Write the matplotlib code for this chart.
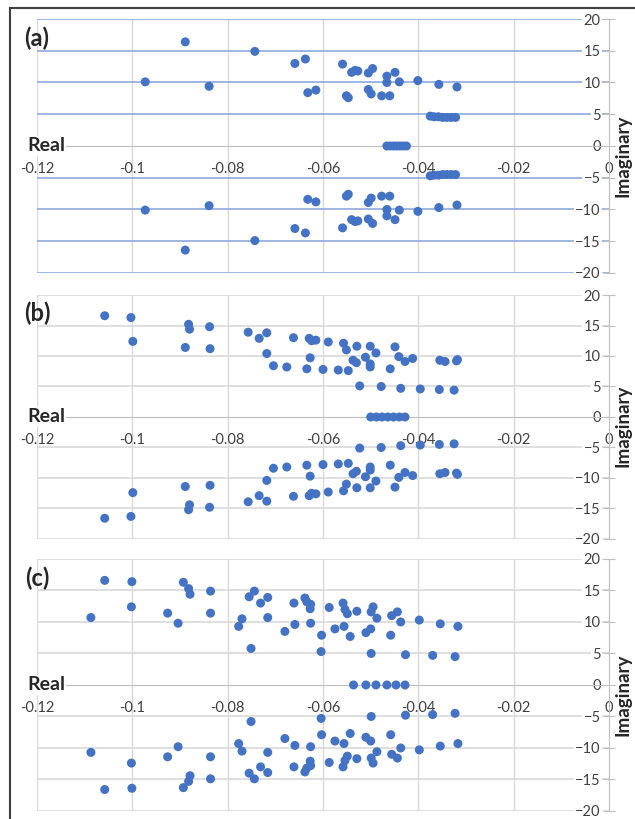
import numpy as np
import matplotlib.pyplot as plt
from matplotlib.lines import Line2D

plt.rcParams['font.family'] = ['Lato', 'DejaVu Sans']

# upper-half eigenvalues (conjugates are mirrored below), plus real ones
a_re = [-0.0889, -0.0743, -0.0659, -0.0637, -0.0973, -0.0839, -0.0632, -0.0615,
        -0.0559, -0.0551, -0.0547, -0.0540, -0.0533, -0.0527, -0.0505, -0.0496,
        -0.0505, -0.0499, -0.0477, -0.0460, -0.0466, -0.0449, -0.0466, -0.0440,
        -0.0401, -0.0357, -0.0319,
        -0.0375, -0.0367, -0.0358, -0.0349, -0.0340, -0.0331, -0.0322]
a_im = [16.4, 14.9, 13.0, 13.7, 10.1, 9.4, 8.4, 8.8,
        12.9, 7.9, 7.6, 11.6, 11.9, 11.8, 11.5, 12.2,
        8.9, 8.2, 7.9, 7.9, 11.0, 11.6, 10.0, 10.1,
        10.3, 9.7, 9.3,
        4.7, 4.6, 4.6, 4.5, 4.5, 4.5, 4.5]
a_zero = [-0.0466, -0.0459, -0.0452, -0.0446, -0.0439, -0.0432, -0.0425]

b_re = [-0.1058, -0.1003, -0.0999, -0.0882, -0.0880, -0.0838, -0.0889, -0.0837,
        -0.0757, -0.0734, -0.0718, -0.0718, -0.0704, -0.0676, -0.0662, -0.0629,
        -0.0624, -0.0615, -0.0627, -0.0634, -0.0600, -0.0589, -0.0568, -0.0557,
        -0.0551, -0.0547, -0.0529, -0.0537, -0.0530, -0.0523, -0.0511, -0.0501,
        -0.0501, -0.0501, -0.0489, -0.0478, -0.0459, -0.0449, -0.0441, -0.0428,
        -0.0412, -0.0437, -0.0396, -0.0355, -0.0344, -0.0356, -0.0325, -0.0318,
        -0.0320]
b_im = [16.6, 16.3, 12.4, 15.2, 14.4, 14.8, 11.4, 11.2,
        13.9, 12.9, 13.8, 10.4, 8.4, 8.2, 13.0, 12.9,
        12.5, 12.6, 9.7, 7.9, 7.8, 12.3, 7.7, 12.1,
        11.0, 7.6, 11.6, 9.3, 8.9, 5.1, 9.8, 8.7,
        8.2, 11.6, 10.5, 5.0, 7.9, 11.5, 9.9, 9.1,
        9.6, 4.7, 4.6, 9.3, 9.1, 4.5, 4.4, 9.4,
        9.2]
b_zero = [-0.0500, -0.0488, -0.0476, -0.0464, -0.0452, -0.0440, -0.0428]

c_re = [-0.1087, -0.1058, -0.1001, -0.1002, -0.0893, -0.0882, -0.0879, -0.0836,
        -0.0926, -0.0904, -0.0836, -0.0755, -0.0744, -0.0731, -0.0716, -0.0770,
        -0.0777, -0.0716, -0.0751, -0.0680, -0.0659, -0.0661, -0.0638, -0.0634,
        -0.0626, -0.0627, -0.0626, -0.0603, -0.0604, -0.0587, -0.0575, -0.0558,
        -0.0554, -0.0549, -0.0556, -0.0543, -0.0529, -0.0510, -0.0500, -0.0499,
        -0.0495, -0.0487, -0.0499, -0.0458, -0.0456, -0.0444, -0.0437, -0.0427,
        -0.0398, -0.0370, -0.0354, -0.0323, -0.0317]
c_im = [10.7, 16.6, 16.4, 12.4, 16.3, 15.3, 14.4, 14.9,
        11.4, 9.8, 11.4, 14.0, 14.9, 13.0, 13.9, 10.5,
        9.3, 10.7, 5.8, 8.5, 9.6, 13.0, 13.8, 13.2,
        12.8, 12.1, 9.8, 7.9, 5.3, 12.3, 8.9, 13.0,
        12.0, 11.3, 9.3, 7.7, 11.7, 8.3, 8.9, 11.6,
        12.4, 10.6, 5.0, 7.9, 11.0, 11.6, 10.0, 4.8,
        10.3, 4.7, 9.7, 4.5, 9.3]
c_zero = [-0.0536, -0.0510, -0.0489, -0.0466, -0.0447, -0.0428]

x_ticks = [-0.12, -0.1, -0.08, -0.06, -0.04, -0.02, 0]
x_labels = ['-0.12', '-0.1', '-0.08', '-0.06', '-0.04', '-0.02', '0']
y_ticks = [-20, -15, -10, -5, 0, 5, 10, 15, 20]

panels = [
    ('(a)', a_re, a_im, a_zero, [0.0583, 0.6667, 0.9008, 0.3101], '#8eaadb'),
    ('(b)', b_re, b_im, b_zero, [0.0583, 0.3419, 0.9008, 0.2979], '#d9d9d9'),
    ('(c)', c_re, c_im, c_zero, [0.0583, 0.0098, 0.9008, 0.3077], '#d9d9d9'),
]

fig = plt.figure(figsize=(6.35, 8.19), dpi=100)
text_col = '#404040'
dot_col = '#4472c4'

for tag, re, im, zero, rect, hcol in panels:
    ax = fig.add_axes(rect)
    re = np.array(re)
    im = np.array(im)
    xs = np.concatenate([re, re, zero])
    ys = np.concatenate([im, -im, np.zeros(len(zero))])

    ax.set_xlim(-0.12, 0)
    ax.set_ylim(-20, 20)

    # gridlines
    for yv in y_ticks:
        if yv == 0:
            continue
        ax.axhline(yv, color=hcol, lw=1.2, zorder=1)
    for xv in x_ticks[:-1]:
        ax.axvline(xv, color='#d9d9d9', lw=1.0, zorder=0.5)

    ax.scatter(xs, ys, s=42, color=dot_col, edgecolors='none', zorder=3)

    for side in ['top', 'right']:
        ax.spines[side].set_visible(False)
    ax.spines['left'].set_position(('data', 0))
    ax.spines['bottom'].set_position(('data', 0))
    ax.spines['left'].set_color('#bfbfbf')
    ax.spines['bottom'].set_color('#bfbfbf')
    ax.spines['left'].set_zorder(2)
    ax.spines['bottom'].set_zorder(2)

    ax.set_xticks(x_ticks)
    ax.set_xticklabels(x_labels)
    ax.set_yticks(y_ticks)
    ax.tick_params(axis='x', length=0, pad=11.5, labelsize=10.5, labelcolor=text_col)
    ax.tick_params(axis='y', direction='inout', length=8, color='#bfbfbf',
                   pad=2, labelsize=10.5, labelcolor=text_col)
    for lbl in ax.get_yticklabels():
        lbl.set_bbox(dict(facecolor='white', edgecolor='none', pad=1))

    ax.text(-0.1181, 0, 'Real', ha='center', va='center', fontsize=14,
            fontweight='bold', color='#262626', zorder=4,
            bbox=dict(facecolor='white', edgecolor='none', pad=1))
    ax.annotate('Imaginary', xy=(0, -1.5), xytext=(10, 0),
                textcoords='offset points', rotation=90, ha='center',
                va='center', fontsize=13.5, fontweight='bold', color='#262626',
                annotation_clip=False)
    ax.text(0.0, 0.925, tag, transform=ax.transAxes, ha='center',
            va='center', fontsize=17, fontweight='bold', color='#262626')

# outer frame edges
fig.add_artist(Line2D([9.5 / 635, 9.5 / 635], [0, 1 - 8 / 819],
                      color='#404040', lw=1.5))
fig.add_artist(Line2D([9.5 / 635, 1], [1 - 8 / 819, 1 - 8 / 819],
                      color='#404040', lw=1.5))

fig.savefig('out.png', dpi=100)
